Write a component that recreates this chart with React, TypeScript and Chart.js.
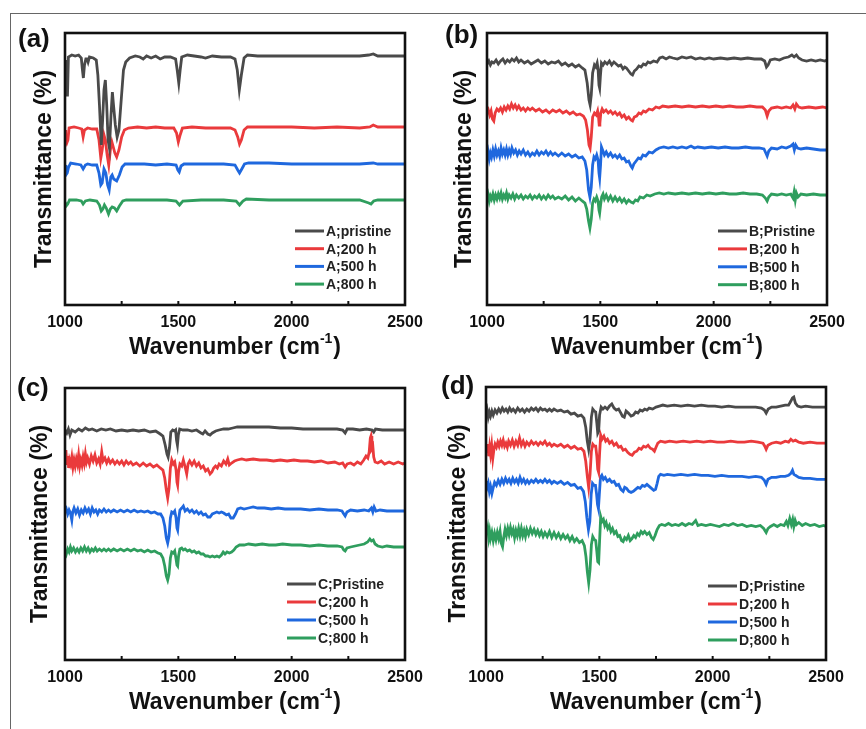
import React, { useEffect, useRef } from 'react';
import { Chart, registerables } from 'chart.js';
Chart.register(...registerables);

type Pt = [number, number];

const FONT = '"Liberation Sans", Arial, Helvetica, sans-serif';
const COLORS = ['#4a4a4a', '#ea3a3c', '#1f68de', '#2f9e5e'];
const X_MIN = 1000;
const X_MAX = 2500;
const TICK_VALUES = [1000, 1250, 1500, 1750, 2000, 2250, 2500];
const TICK_LABELS = ['1000', '', '1500', '', '2000', '', '2500'];
const Y_TITLE = 'Transmittance (%)';
const X_TITLE = 'Wavenumber (cm';
const X_TITLE_SUP = '-1';

const A_LABELS = ['A;pristine', 'A;200 h', 'A;500 h', 'A;800 h'];
const B_LABELS = ['B;Pristine', 'B;200 h', 'B;500 h', 'B;800 h'];
const C_LABELS = ['C;Pristine', 'C;200 h', 'C;500 h', 'C;800 h'];
const D_LABELS = ['D;Pristine', 'D;200 h', 'D;500 h', 'D;800 h'];

// ---------- Panel (a) ----------
const aPristine: Pt[] = [[1000,245],[1003,215],[1006,210],[1011,210],[1015,248],[1030,250],[1045,249],[1060,250],[1072,247],[1077,235],[1081,227],[1086,240],[1092,246],[1098,246],[1102,243],[1108,248],[1125,247],[1138,245],[1145,230],[1152,200],[1160,160],[1166,185],[1172,215],[1178,225],[1184,200],[1190,165],[1196,157],[1203,190],[1209,213],[1214,200],[1222,180],[1230,168],[1238,175],[1248,205],[1258,235],[1268,243],[1285,247],[1310,249],[1330,248],[1345,246],[1360,249],[1380,247],[1400,249],[1420,246],[1440,248],[1465,248],[1488,246],[1495,235],[1502,222],[1508,235],[1515,248],[1540,250],[1570,249],[1600,248],[1620,247],[1650,249],[1690,248],[1730,248],[1750,246],[1760,235],[1769,215],[1778,230],[1790,247],[1805,250],[1850,249],[1900,249],[1950,249],[2000,249],[2050,249],[2100,249],[2150,249],[2200,249],[2250,249],[2300,249],[2340,250],[2360,251],[2380,249],[2450,249],[2500,249]];
const a200: Pt[] = [[1000,175],[1003,165],[1008,162],[1013,165],[1018,177],[1040,178],[1060,177],[1074,176],[1080,168],[1086,175],[1100,177],[1120,176],[1140,176],[1150,165],[1158,147],[1164,155],[1172,170],[1178,165],[1186,150],[1193,140],[1200,155],[1207,163],[1213,158],[1220,152],[1228,148],[1238,155],[1250,168],[1262,175],[1280,177],[1320,178],[1360,177],[1400,178],[1440,177],[1480,177],[1492,172],[1500,163],[1508,170],[1518,177],[1560,178],[1620,177],[1680,177],[1730,177],[1750,175],[1762,168],[1770,161],[1778,165],[1790,175],[1805,178],[1900,178],[2000,178],[2100,177],[2200,178],[2300,177],[2345,178],[2360,180],[2380,178],[2500,178]];
const a500: Pt[] = [[1000,140],[1004,130],[1010,132],[1016,138],[1025,142],[1050,141],[1070,140],[1080,136],[1090,140],[1100,141],[1120,140],[1140,140],[1150,132],[1158,120],[1164,122],[1172,136],[1180,132],[1188,120],[1195,115],[1202,128],[1208,130],[1215,126],[1228,124],[1240,130],[1252,138],[1265,141],[1300,141],[1350,141],[1400,140],[1450,141],[1490,140],[1498,135],[1504,133],[1512,139],[1525,141],[1600,141],[1700,141],[1750,140],[1762,135],[1770,132],[1780,136],[1792,141],[1810,142],[1900,142],[2000,141],[2100,141],[2200,141],[2300,141],[2360,142],[2380,141],[2500,141]];
const a800: Pt[] = [[1000,103],[1005,99],[1012,101],[1020,105],[1050,105],[1072,104],[1080,101],[1090,104],[1110,105],[1140,104],[1152,100],[1160,94],[1167,96],[1174,100],[1182,97],[1192,91],[1200,96],[1208,98],[1218,97],[1228,94],[1240,99],[1255,104],[1270,105],[1350,105],[1450,105],[1490,104],[1505,100],[1520,104],[1600,105],[1700,105],[1755,104],[1770,100],[1785,104],[1800,106],[1900,105],[2000,105],[2100,105],[2200,105],[2300,105],[2340,102],[2350,101],[2362,104],[2380,105],[2500,105]];

// ---------- Panel (b) ----------
const bPristine: Pt[] = [[1000,241],[1008,244],[1015,240],[1022,243],[1030,242],[1040,245],[1050,241],[1060,244],[1070,246],[1080,242],[1090,245],[1100,243],[1110,246],[1120,244],[1130,247],[1140,243],[1150,245],[1165,242],[1180,244],[1195,241],[1210,243],[1225,245],[1240,242],[1255,244],[1270,241],[1285,243],[1300,242],[1315,244],[1330,240],[1345,242],[1360,239],[1375,241],[1390,238],[1405,240],[1420,237],[1432,235],[1442,222],[1450,205],[1455,200],[1460,210],[1466,232],[1474,240],[1480,238],[1486,242],[1490,236],[1494,220],[1497,217],[1500,228],[1505,242],[1512,240],[1520,243],[1530,241],[1540,244],[1550,240],[1560,243],[1570,241],[1580,239],[1590,240],[1600,236],[1608,238],[1615,237],[1625,234],[1635,231],[1642,230],[1650,234],[1660,236],[1670,239],[1680,238],[1690,241],[1700,240],[1710,243],[1720,242],[1735,244],[1750,243],[1762,247],[1775,248],[1790,246],[1805,248],[1820,247],[1840,246],[1860,248],[1880,247],[1900,248],[1920,246],[1940,247],[1960,246],[1980,247],[2000,246],[2030,247],[2060,246],[2090,247],[2120,246],[2150,247],[2180,246],[2210,246],[2225,244],[2233,238],[2240,240],[2250,245],[2270,246],[2290,245],[2310,247],[2330,248],[2345,250],[2355,248],[2365,250],[2375,247],[2390,245],[2410,244],[2430,245],[2450,244],[2470,245],[2490,244],[2500,245]];
const b200: Pt[] = [[1000,192],[1006,195],[1012,190],[1018,194],[1024,186],[1030,184],[1036,192],[1044,196],[1052,194],[1060,197],[1068,193],[1076,198],[1084,195],[1092,199],[1100,196],[1108,201],[1116,197],[1124,200],[1132,196],[1140,199],[1150,195],[1160,197],[1170,194],[1180,197],[1190,195],[1200,197],[1215,194],[1230,196],[1245,193],[1260,195],[1275,192],[1290,195],[1305,193],[1320,195],[1335,192],[1350,194],[1365,191],[1380,193],[1395,190],[1410,191],[1425,189],[1435,185],[1443,175],[1450,160],[1455,157],[1460,168],[1466,188],[1474,192],[1482,190],[1488,194],[1492,188],[1495,180],[1498,182],[1502,192],[1508,196],[1515,193],[1525,195],[1535,192],[1545,194],[1555,191],[1565,193],[1575,190],[1585,192],[1595,188],[1605,190],[1615,186],[1625,188],[1635,185],[1642,184],[1650,188],[1660,189],[1670,192],[1680,191],[1690,194],[1700,193],[1715,196],[1730,195],[1745,198],[1760,197],[1775,199],[1800,198],[1830,199],[1860,198],[1890,199],[1920,198],[1950,199],[1980,198],[2010,199],[2040,198],[2070,199],[2100,198],[2130,198],[2160,199],[2190,198],[2215,198],[2228,195],[2236,189],[2243,194],[2255,197],[2280,198],[2300,197],[2320,198],[2340,197],[2350,200],[2358,196],[2365,201],[2375,198],[2390,197],[2420,198],[2450,197],[2480,198],[2500,197]];
const b500: Pt[] = [[1000,147],[1005,153],[1010,146],[1015,152],[1020,148],[1026,155],[1032,149],[1038,156],[1044,150],[1050,154],[1056,149],[1062,157],[1068,151],[1074,155],[1080,150],[1086,156],[1092,150],[1098,155],[1104,151],[1110,157],[1118,152],[1126,155],[1134,150],[1142,154],[1150,151],[1160,155],[1170,150],[1180,153],[1190,149],[1200,152],[1210,150],[1220,154],[1230,150],[1240,153],[1250,151],[1260,154],[1270,150],[1280,153],[1290,150],[1300,152],[1315,149],[1330,152],[1345,149],[1360,151],[1375,148],[1390,150],[1405,147],[1420,148],[1432,144],[1440,135],[1448,115],[1454,108],[1460,118],[1466,140],[1472,148],[1478,146],[1484,150],[1490,145],[1494,132],[1497,127],[1501,140],[1505,158],[1510,155],[1518,150],[1526,153],[1535,149],[1545,152],[1555,148],[1565,150],[1575,147],[1585,150],[1595,146],[1605,147],[1615,143],[1625,144],[1635,139],[1641,137],[1648,141],[1658,144],[1668,147],[1678,146],[1688,150],[1700,149],[1715,153],[1730,152],[1745,155],[1760,157],[1780,158],[1800,157],[1820,158],[1840,157],[1860,158],[1880,157],[1900,159],[1915,157],[1930,158],[1960,157],[1990,158],[2020,157],[2050,158],[2080,157],[2110,157],[2140,158],[2170,157],[2200,157],[2222,156],[2230,152],[2236,149],[2243,154],[2255,157],[2280,156],[2300,158],[2320,157],[2340,159],[2350,161],[2356,155],[2362,160],[2370,157],[2385,156],[2410,157],[2440,156],[2470,155],[2500,155]];
const b800: Pt[] = [[1000,105],[1005,110],[1010,104],[1015,109],[1020,106],[1026,111],[1032,105],[1038,110],[1044,106],[1050,111],[1056,107],[1062,112],[1068,106],[1074,110],[1080,107],[1086,112],[1092,106],[1098,110],[1106,107],[1114,111],[1122,106],[1130,110],[1140,107],[1150,110],[1160,106],[1170,109],[1180,107],[1190,110],[1200,106],[1210,109],[1220,107],[1230,110],[1240,106],[1250,109],[1260,106],[1270,110],[1280,107],[1290,109],[1300,106],[1315,108],[1330,106],[1345,109],[1360,105],[1375,108],[1390,104],[1405,107],[1420,104],[1432,102],[1440,96],[1448,84],[1454,77],[1460,86],[1466,102],[1472,106],[1478,104],[1484,108],[1490,104],[1494,95],[1497,92],[1501,100],[1506,108],[1512,111],[1518,106],[1526,110],[1535,105],[1545,109],[1555,104],[1565,108],[1575,104],[1585,107],[1595,103],[1605,106],[1615,102],[1625,105],[1635,103],[1645,102],[1655,105],[1665,104],[1675,108],[1690,107],[1705,110],[1720,109],[1740,111],[1760,112],[1780,111],[1800,112],[1830,111],[1860,112],[1890,111],[1920,112],[1950,111],[1980,112],[2010,111],[2040,112],[2070,111],[2100,111],[2130,112],[2160,111],[2190,111],[2215,110],[2228,107],[2236,104],[2243,108],[2255,111],[2280,110],[2300,111],[2320,110],[2340,111],[2350,107],[2355,113],[2360,105],[2365,112],[2372,108],[2385,111],[2410,110],[2440,111],[2470,110],[2500,110]];

// ---------- Panel (c) ----------
const cPristine: Pt[] = [[1000,230],[1008,227],[1015,231],[1022,225],[1030,230],[1045,228],[1060,231],[1075,229],[1090,232],[1105,230],[1120,231],[1140,229],[1160,231],[1180,230],[1200,231],[1225,229],[1250,230],[1275,229],[1300,230],[1325,229],[1350,230],[1375,228],[1400,229],[1420,226],[1432,224],[1442,215],[1450,206],[1455,203],[1461,212],[1467,228],[1475,230],[1483,229],[1488,230],[1492,220],[1496,215],[1500,225],[1506,231],[1520,230],[1540,230],[1560,229],[1580,230],[1600,227],[1608,226],[1618,229],[1630,226],[1640,225],[1650,227],[1665,229],[1680,230],[1700,231],[1720,231],[1740,232],[1760,233],[1790,233],[1820,233],[1860,233],[1900,233],[1950,232],[2000,232],[2050,231],[2100,231],[2150,231],[2200,231],[2225,230],[2236,227],[2245,231],[2270,231],[2300,230],[2330,231],[2355,230],[2362,228],[2370,231],[2400,230],[2450,230],[2500,230]];
const c200: Pt[] = [[1000,200],[1004,210],[1008,195],[1012,204],[1016,192],[1020,200],[1025,196],[1030,203],[1035,193],[1040,200],[1045,194],[1050,201],[1055,196],[1060,205],[1065,194],[1070,200],[1075,195],[1080,203],[1085,197],[1090,206],[1095,198],[1100,202],[1108,196],[1116,204],[1124,199],[1132,205],[1140,197],[1148,201],[1155,196],[1162,208],[1168,199],[1176,202],[1184,197],[1192,201],[1200,197],[1210,200],[1220,196],[1230,199],[1240,196],[1250,199],[1260,195],[1270,199],[1280,196],[1290,198],[1300,195],[1315,197],[1330,194],[1345,197],[1360,194],[1375,196],[1390,193],[1405,195],[1420,192],[1432,190],[1440,182],[1447,170],[1453,162],[1459,172],[1465,192],[1471,200],[1478,196],[1484,198],[1490,190],[1494,178],[1497,175],[1501,188],[1507,196],[1515,194],[1522,200],[1530,193],[1537,186],[1543,196],[1550,199],[1560,195],[1570,199],[1580,194],[1590,197],[1600,192],[1610,194],[1620,189],[1630,191],[1640,186],[1648,188],[1656,192],[1664,194],[1672,192],[1680,196],[1690,194],[1700,199],[1710,196],[1718,201],[1725,195],[1735,197],[1748,199],[1760,200],[1780,201],[1800,200],[1830,201],[1860,200],[1890,200],[1920,199],[1950,200],[1980,199],[2010,200],[2040,199],[2070,199],[2100,198],[2130,199],[2160,197],[2190,198],[2210,196],[2225,197],[2236,193],[2245,196],[2260,197],[2275,195],[2290,198],[2305,196],[2318,200],[2328,204],[2336,202],[2342,208],[2347,222],[2350,224],[2354,212],[2358,214],[2362,203],[2368,198],[2380,197],[2395,199],[2410,196],[2430,198],[2450,196],[2470,198],[2490,196],[2500,197]];
const c500: Pt[] = [[1000,148],[1006,151],[1012,146],[1018,150],[1024,147],[1030,140],[1034,148],[1040,152],[1048,147],[1056,151],[1064,145],[1072,150],[1080,147],[1088,152],[1096,148],[1104,151],[1112,146],[1120,152],[1128,148],[1136,150],[1144,146],[1152,150],[1162,148],[1172,151],[1182,148],[1192,150],[1202,148],[1215,150],[1230,148],[1245,150],[1260,148],[1275,150],[1290,148],[1305,150],[1320,148],[1335,149],[1350,148],[1365,149],[1380,147],[1395,148],[1410,146],[1422,146],[1432,142],[1440,134],[1447,122],[1453,117],[1459,124],[1465,142],[1471,148],[1478,147],[1484,149],[1490,142],[1494,132],[1497,130],[1501,140],[1507,150],[1515,152],[1522,154],[1530,149],[1540,151],[1550,148],[1560,150],[1570,147],[1580,149],[1590,146],[1600,148],[1610,145],[1620,146],[1630,143],[1640,143],[1650,146],[1660,147],[1670,148],[1680,147],[1690,148],[1700,147],[1712,145],[1722,146],[1732,142],[1742,142],[1752,146],[1762,151],[1775,152],[1790,151],[1810,152],[1830,153],[1850,152],[1880,152],[1910,151],[1940,152],[1970,151],[2000,151],[2040,151],[2080,150],[2120,151],[2160,150],[2200,150],[2222,149],[2230,146],[2236,144],[2244,148],[2260,150],[2290,149],[2320,150],[2340,149],[2352,152],[2358,148],[2364,153],[2372,149],[2390,150],[2420,149],[2450,149],[2480,149],[2500,149]];
const c800: Pt[] = [[1000,110],[1006,106],[1012,111],[1018,108],[1024,113],[1030,109],[1038,112],[1046,108],[1054,111],[1062,108],[1070,112],[1078,109],[1086,113],[1094,109],[1102,112],[1110,108],[1118,111],[1126,109],[1134,112],[1142,109],[1152,111],[1162,109],[1172,111],[1182,109],[1192,111],[1202,109],[1215,111],[1230,109],[1245,111],[1260,109],[1275,111],[1290,109],[1305,111],[1320,109],[1335,110],[1350,108],[1365,110],[1380,108],[1395,109],[1410,107],[1422,106],[1432,102],[1440,94],[1447,84],[1453,80],[1459,86],[1465,102],[1471,108],[1478,107],[1484,109],[1490,101],[1494,95],[1497,94],[1501,104],[1507,111],[1515,112],[1522,110],[1530,111],[1540,109],[1550,110],[1560,108],[1570,109],[1580,107],[1590,108],[1600,106],[1610,106],[1620,104],[1630,104],[1640,103],[1650,104],[1660,103],[1670,104],[1680,103],[1690,105],[1698,108],[1706,106],[1715,108],[1725,107],[1735,108],[1745,110],[1755,113],[1770,115],[1790,115],[1810,116],[1840,115],[1870,116],[1900,115],[1930,115],[1960,116],[2000,115],[2040,115],[2080,114],[2120,115],[2160,114],[2200,114],[2222,113],[2230,110],[2236,109],[2244,112],[2260,113],[2280,114],[2300,115],[2320,116],[2335,118],[2345,121],[2352,119],[2360,120],[2368,116],[2380,114],[2400,113],[2420,114],[2450,113],[2480,113],[2500,113]];

// ---------- Panel (d) ----------
const dPristine: Pt[] = [[1000,244],[1005,249],[1010,242],[1015,247],[1020,243],[1026,248],[1032,244],[1040,249],[1048,246],[1056,250],[1064,247],[1072,251],[1080,248],[1088,250],[1096,247],[1104,251],[1112,248],[1120,250],[1130,247],[1140,251],[1150,248],[1160,250],[1170,247],[1180,250],[1190,248],[1200,251],[1210,249],[1220,251],[1230,248],[1240,251],[1250,249],[1260,250],[1270,248],[1280,250],[1290,248],[1300,250],[1315,248],[1330,249],[1345,247],[1360,248],[1375,245],[1390,246],[1405,243],[1420,244],[1432,241],[1440,232],[1447,218],[1453,210],[1459,220],[1465,242],[1471,250],[1478,248],[1484,247],[1489,236],[1493,226],[1497,228],[1501,244],[1508,252],[1516,250],[1525,252],[1535,250],[1545,253],[1555,255],[1565,251],[1575,249],[1585,250],[1595,246],[1602,243],[1610,242],[1618,248],[1628,246],[1640,243],[1650,244],[1660,247],[1670,246],[1680,249],[1690,248],[1700,250],[1710,249],[1720,251],[1735,250],[1750,252],[1765,253],[1780,254],[1800,253],[1830,254],[1860,253],[1890,254],[1920,253],[1950,254],[1980,253],[2010,253],[2040,252],[2070,253],[2100,252],[2130,252],[2160,252],[2190,252],[2215,251],[2228,249],[2236,246],[2245,250],[2260,252],[2280,252],[2300,253],[2320,254],[2335,254],[2345,258],[2352,261],[2358,262],[2365,256],[2375,253],[2390,252],[2410,253],[2440,252],[2470,252],[2500,252]];
const d200: Pt[] = [[1000,214],[1004,206],[1008,215],[1012,203],[1016,212],[1020,205],[1025,214],[1030,201],[1035,210],[1040,215],[1046,212],[1052,217],[1058,213],[1064,218],[1070,214],[1076,219],[1082,213],[1088,216],[1094,212],[1100,218],[1108,214],[1116,219],[1124,213],[1132,218],[1140,214],[1148,221],[1156,214],[1164,218],[1172,213],[1180,217],[1190,214],[1200,218],[1210,215],[1220,217],[1230,214],[1240,217],[1250,215],[1260,218],[1270,214],[1280,216],[1290,213],[1300,215],[1315,213],[1330,215],[1345,212],[1360,214],[1375,211],[1390,213],[1405,210],[1420,211],[1432,208],[1440,198],[1447,183],[1453,172],[1459,185],[1465,208],[1471,215],[1478,213],[1484,213],[1489,203],[1493,190],[1497,187],[1501,205],[1506,224],[1512,220],[1520,223],[1528,218],[1536,220],[1545,216],[1555,218],[1565,214],[1575,216],[1585,212],[1595,213],[1605,209],[1615,210],[1625,207],[1635,205],[1645,204],[1655,207],[1665,208],[1675,211],[1685,210],[1695,213],[1705,212],[1715,214],[1725,211],[1735,210],[1743,208],[1750,212],[1758,216],[1770,218],[1790,217],[1810,218],[1840,217],[1870,218],[1900,217],[1930,218],[1960,217],[1990,218],[2020,217],[2050,217],[2080,218],[2110,217],[2140,217],[2170,218],[2200,217],[2222,216],[2230,213],[2236,210],[2244,214],[2260,216],[2280,217],[2300,216],[2320,218],[2335,217],[2345,220],[2355,218],[2365,219],[2380,217],[2400,216],[2430,217],[2460,216],[2500,216]];
const d500: Pt[] = [[1000,178],[1005,172],[1010,176],[1015,168],[1020,173],[1026,166],[1032,172],[1038,177],[1046,174],[1054,179],[1062,175],[1070,180],[1078,176],[1086,181],[1094,177],[1102,180],[1110,176],[1118,181],[1126,177],[1134,180],[1142,176],[1150,182],[1158,177],[1166,180],[1174,176],[1182,179],[1190,176],[1200,179],[1210,177],[1220,180],[1230,177],[1240,179],[1250,177],[1260,180],[1270,177],[1280,179],[1290,176],[1300,178],[1315,176],[1330,178],[1345,175],[1360,177],[1375,174],[1390,175],[1405,171],[1418,172],[1430,168],[1438,158],[1445,142],[1452,130],[1458,138],[1464,165],[1470,176],[1477,174],[1483,174],[1488,165],[1492,155],[1496,151],[1500,165],[1505,182],[1511,184],[1518,180],[1526,182],[1535,178],[1545,180],[1555,177],[1565,178],[1575,174],[1585,175],[1595,170],[1605,168],[1612,172],[1620,171],[1630,168],[1640,167],[1650,168],[1660,170],[1670,172],[1680,171],[1690,174],[1700,173],[1710,175],[1720,173],[1730,171],[1740,169],[1748,170],[1755,176],[1762,183],[1770,185],[1785,184],[1800,185],[1830,184],[1860,185],[1890,184],[1920,185],[1950,184],[1980,184],[2010,183],[2040,184],[2070,183],[2100,183],[2130,183],[2160,182],[2190,183],[2215,182],[2228,179],[2236,175],[2244,180],[2260,182],[2280,182],[2300,183],[2320,183],[2335,184],[2345,186],[2352,189],[2358,185],[2365,184],[2380,182],[2400,181],[2430,181],[2460,180],[2500,180]];
const d800: Pt[] = [[1000,134],[1004,126],[1008,131],[1012,122],[1016,128],[1020,121],[1026,127],[1032,119],[1038,126],[1044,120],[1050,127],[1056,121],[1062,128],[1068,116],[1073,113],[1078,122],[1084,130],[1090,124],[1096,131],[1102,125],[1108,132],[1114,126],[1120,130],[1126,122],[1132,129],[1138,124],[1144,131],[1150,124],[1156,131],[1162,124],[1168,129],[1174,123],[1180,130],[1188,125],[1196,131],[1204,126],[1212,130],[1220,125],[1228,129],[1236,124],[1244,128],[1252,123],[1260,127],[1270,123],[1280,128],[1290,122],[1300,127],[1310,122],[1320,126],[1330,121],[1340,125],[1350,121],[1360,124],[1370,119],[1380,123],[1390,118],[1400,121],[1412,117],[1424,119],[1434,114],[1441,103],[1447,88],[1453,77],[1459,90],[1465,115],[1471,123],[1478,120],[1484,119],[1489,108],[1493,98],[1497,97],[1501,118],[1506,143],[1512,138],[1518,140],[1524,134],[1530,137],[1537,131],[1544,134],[1551,128],[1558,131],[1566,126],[1574,128],[1582,123],[1590,124],[1598,119],[1605,118],[1612,122],[1620,120],[1628,124],[1636,119],[1644,121],[1652,124],[1660,122],[1668,126],[1676,124],[1684,128],[1692,126],[1700,128],[1710,125],[1720,127],[1730,122],[1738,120],[1746,124],[1755,130],[1765,134],[1775,135],[1790,134],[1805,136],[1820,134],[1835,135],[1850,134],[1865,136],[1880,134],[1895,136],[1910,135],[1925,139],[1935,134],[1950,135],[1970,134],[1990,135],[2010,134],[2030,133],[2050,135],[2070,134],[2090,136],[2110,134],[2130,135],[2150,133],[2170,134],[2190,133],[2210,134],[2225,131],[2236,127],[2244,131],[2255,133],[2270,135],[2285,133],[2300,135],[2315,134],[2325,138],[2332,134],[2340,141],[2347,135],[2353,140],[2358,133],[2364,139],[2370,135],[2380,137],[2395,134],[2410,136],[2430,134],[2450,135],[2470,133],[2490,134],[2500,133]];

interface PanelCfg {
  tag: string;
  labels: string[];
  series: Pt[][];
  left: number; top: number; w: number; h: number;
  yw: number; xh: number; pt: number; pr: number;
  tagX: number; tagY: number;
  yTitleOff: number;
  legX: number; legY: number; legDy: number;
}

const PANELS: PanelCfg[] = [
  { tag: '(a)', labels: A_LABELS, series: [aPristine, a200, a500, a800],
    left: 0, top: 0, w: 433, h: 365, yw: 65, xh: 60, pt: 33, pr: 28,
    tagX: 18, tagY: 40, yTitleOff: -20, legX: 295, legY: 231, legDy: 17.7 },
  { tag: '(b)', labels: B_LABELS, series: [bPristine, b200, b500, b800],
    left: 433, top: 0, w: 433, h: 365, yw: 54, xh: 60, pt: 33, pr: 39,
    tagX: 12, tagY: 36, yTitleOff: -22, legX: 285, legY: 231, legDy: 17.9 },
  { tag: '(c)', labels: C_LABELS, series: [cPristine, c200, c500, c800],
    left: 0, top: 365, w: 433, h: 364, yw: 65, xh: 69, pt: 23, pr: 28,
    tagX: 17, tagY: 24, yTitleOff: -24, legX: 287, legY: 219, legDy: 18 },
  { tag: '(d)', labels: D_LABELS, series: [dPristine, d200, d500, d800],
    left: 433, top: 365, w: 433, h: 364, yw: 53, xh: 69, pt: 22, pr: 40,
    tagX: 8, tagY: 22, yTitleOff: -27, legX: 275, legY: 221, legDy: 18 },
];

function Panel({ cfg }: { cfg: PanelCfg }) {
  const ref = useRef<HTMLCanvasElement>(null);
  useEffect(() => {
    const canvas = ref.current;
    if (!canvas) return;
    const deco = {
      id: 'deco',
      afterDraw(chart: any) {
        const { ctx, chartArea: a } = chart;
        const xs = chart.scales.x;
        ctx.save();
        // inward ticks
        ctx.strokeStyle = '#111';
        ctx.lineWidth = 2;
        for (const v of TICK_VALUES.slice(1, -1)) {
          const px = xs.getPixelForValue(v);
          ctx.beginPath();
          ctx.moveTo(px, a.bottom);
          ctx.lineTo(px, a.bottom - 4);
          ctx.stroke();
        }
        // frame
        ctx.lineWidth = 2.6;
        ctx.strokeRect(a.left, a.top, a.right - a.left, a.bottom - a.top);
        // legend
        ctx.textBaseline = 'middle';
        ctx.textAlign = 'left';
        ctx.font = `bold 14px ${FONT}`;
        cfg.labels.forEach((lab, i) => {
          const y = cfg.legY + i * cfg.legDy;
          ctx.strokeStyle = COLORS[i];
          ctx.lineWidth = 3;
          ctx.beginPath();
          ctx.moveTo(cfg.legX, y);
          ctx.lineTo(cfg.legX + 29, y);
          ctx.stroke();
          ctx.fillStyle = '#222';
          ctx.fillText(lab, cfg.legX + 31, y + 1);
        });
        // panel tag
        ctx.fillStyle = '#111';
        ctx.font = `bold 26px ${FONT}`;
        ctx.fillText(cfg.tag, cfg.tagX, cfg.tagY);
        // y title
        ctx.save();
        ctx.translate(a.left + cfg.yTitleOff, (a.top + a.bottom) / 2);
        ctx.rotate(-Math.PI / 2);
        ctx.textAlign = 'center';
        ctx.font = `bold 23px ${FONT}`;
        ctx.fillText(Y_TITLE, 0, 0);
        ctx.restore();
        // x title with superscript
        ctx.font = `bold 23px ${FONT}`;
        const wMain = ctx.measureText(X_TITLE).width;
        const wClose = ctx.measureText(')').width;
        ctx.font = `bold 14px ${FONT}`;
        const wSup = ctx.measureText(X_TITLE_SUP).width;
        const total = wMain + wSup + wClose + 1;
        let x = (a.left + a.right) / 2 - total / 2;
        const y = a.bottom + 42.5;
        ctx.textAlign = 'left';
        ctx.font = `bold 23px ${FONT}`;
        ctx.fillText(X_TITLE, x, y);
        x += wMain;
        ctx.font = `bold 14px ${FONT}`;
        ctx.fillText(X_TITLE_SUP, x, y - 8);
        x += wSup + 1;
        ctx.font = `bold 23px ${FONT}`;
        ctx.fillText(')', x, y);
        ctx.restore();
      },
    };
    const chart = new Chart(canvas, {
      type: 'line',
      data: {
        datasets: cfg.series.map((s, i) => ({
          label: cfg.labels[i],
          data: s.map(([x, y]) => ({ x, y })),
          borderColor: COLORS[i],
          backgroundColor: COLORS[i],
          borderWidth: 2.8,
          pointRadius: 0,
          tension: 0,
          fill: false,
        })),
      },
      options: {
        animation: false,
        responsive: false,
        devicePixelRatio: 1,
        parsing: true,
        layout: { padding: { left: 0, top: cfg.pt, right: cfg.pr, bottom: 0 } },
        plugins: {
          legend: { display: false },
          tooltip: { enabled: false },
          title: { display: false },
        },
        scales: {
          x: {
            type: 'linear',
            min: X_MIN,
            max: X_MAX,
            grid: { display: false, drawTicks: false },
            border: { display: false },
            ticks: {
              stepSize: 250,
              autoSkip: false,
              maxRotation: 0,
              padding: 8,
              color: '#111',
              font: { family: FONT, size: 16, weight: 'bold' },
              callback: (v: any) => {
                const i = TICK_VALUES.indexOf(Number(v));
                return i >= 0 ? TICK_LABELS[i] : '';
              },
            },
            afterFit: (s: any) => { s.height = cfg.xh; },
          },
          y: {
            type: 'linear',
            min: 0,
            max: 272,
            grid: { display: false, drawTicks: false },
            border: { display: false },
            ticks: { display: false },
            afterFit: (s: any) => { s.width = cfg.yw; },
          },
        },
      } as any,
      plugins: [deco],
    });
    return () => chart.destroy();
  }, [cfg]);
  return (
    <canvas
      ref={ref}
      width={cfg.w}
      height={cfg.h}
      style={{ position: 'absolute', left: cfg.left, top: cfg.top, width: cfg.w, height: cfg.h }}
    />
  );
}

export default function App() {
  return (
    <div style={{ position: 'absolute', left: 0, top: 0, width: 866, height: 729, background: '#fff', overflow: 'hidden' }}>
      <div style={{ position: 'absolute', left: 10, top: 13, width: 856, height: 716, borderTop: '1px solid #666', borderLeft: '1px solid #666' }} />
      {PANELS.map((p) => <Panel key={p.tag} cfg={p} />)}
    </div>
  );
}
